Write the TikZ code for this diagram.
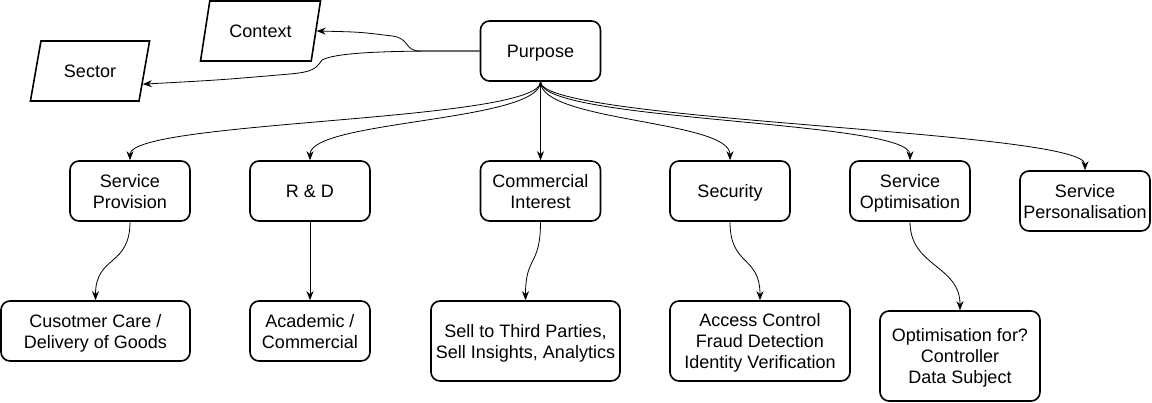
\documentclass[tikz,border=0pt]{standalone}
\usepackage{fontspec}
\setmainfont{Liberation Sans}
\usetikzlibrary{arrows.meta, shapes.geometric}

\begin{document}
\begin{tikzpicture}[
    x=1pt, y=-1pt,
    >={Stealth[length=9pt, width=7pt]},
    every node/.style={font=\fontsize{18}{21}\selectfont},
    box/.style={rectangle, rounded corners=9pt, draw=black, fill=white, line width=1.6pt, inner sep=2pt, align=center, text depth=0pt, minimum width=120pt, minimum height=60pt},
    io/.style={trapezium, trapezium left angle=70, trapezium right angle=110, trapezium stretches=true, draw=black, fill=white, line width=1.6pt, inner sep=2pt, text depth=0pt, minimum width=120pt, minimum height=60pt},
    link/.style={->, line width=0.8pt}
  ]
    \useasboundingbox (0,0) rectangle (1152,403);
    \node[box] (purpose) at (540.5,51) {Purpose};
    \node[io] (context) at (260.5,31) {Context};
    \node[io] (sector) at (90,71) {Sector};
    \node[box] (provision) at (130,191) {Service\\Provision};
    \node[box] (rnd) at (310,191) {R \& D};
    \node[box] (commercial) at (540.5,191) {Commercial\\Interest};
    \node[box] (security) at (730,191) {Security};
    \node[box] (optim) at (910,191) {Service\\Optimisation};
    \node[box, minimum width=130pt] (personal) at (1085,201) {Service\\Personalisation};
    \node[box, minimum width=189pt] (care) at (95.5,331) {Cusotmer Care /\\Delivery of Goods};
    \node[box] (academic) at (310,331) {Academic /\\Commercial};
    \node[box, minimum width=189pt, minimum height=80pt] (sell) at (525.5,341) {Sell to Third Parties,\\Sell Insights, Analytics};
    \node[box, minimum width=180pt, minimum height=80pt] (access) at (760,341) {Access Control\\Fraud Detection\\Identity Verification};
    \node[box, minimum width=160pt, minimum height=90pt] (optfor) at (960,356) {Optimisation for?\\Controller\\Data Subject};
    % purpose to context / sector
    \draw[link] (purpose.west) -- (420,51) .. controls (404,51) and (410,38) .. (392,36) .. controls (360,32) .. (context.east);
    \draw[link] (purpose.west) -- (445,51) .. controls (380,51) and (335,53) .. (322,60) .. controls (316,69) and (312,72) .. (290,74) .. controls (220,80) .. (sector.-14);
    % purpose to second row
    \foreach \n in {provision, rnd, security, optim, personal}
      \draw[link] (purpose.south) .. controls +(0,40) and +(0,-40) .. (\n.north);
    \draw[link] (purpose.south) -- (commercial.north);
    % second row to third row
    \draw[link] (provision.south) .. controls +(0,45) and +(0,-45) .. (care.north);
    \draw[link] (rnd.south) -- (academic.north);
    \draw[link] (commercial.south) .. controls +(0,45) and +(0,-45) .. (sell.north);
    \draw[link] (security.south) .. controls +(0,45) and +(0,-45) .. (access.north);
    \draw[link] (optim.south) .. controls +(0,45) and +(0,-45) .. (optfor.north);
  \end{tikzpicture}
\end{document}
